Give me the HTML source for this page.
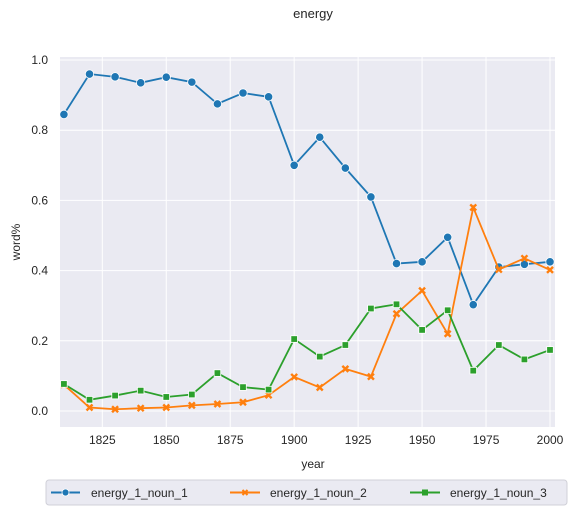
<!DOCTYPE html>
<html><head><meta charset="utf-8"><style>
body{margin:0;background:#fff;}
svg{font-family:"Liberation Sans",Arial,sans-serif;}
</style></head><body>
<svg id="c" width="576" height="515" viewBox="0 0 576 515" xmlns="http://www.w3.org/2000/svg">
<text x="313" y="18" text-anchor="middle" font-size="13" fill="#262626">energy</text>
<rect x="60" y="57" width="495" height="370" fill="#eaeaf2"/>
<g id="grid"></g>
<g id="series"></g>
<text x="313" y="468" text-anchor="middle" font-size="12" fill="#262626">year</text>
<text transform="translate(20,242) rotate(-90)" text-anchor="middle" font-size="12" fill="#262626">word%</text>
<g>
<rect x="46" y="480" width="521" height="25" rx="3" fill="#eaeaf2" stroke="#d0d0d8"/>
<g><line x1="51" y1="492.5" x2="80" y2="492.5" stroke="#1f77b4" stroke-width="2"/><circle cx="65.5" cy="492.5" r="3.5" fill="#1f77b4" stroke="#fff" stroke-width="0.8"/><text x="91" y="497" font-size="12" fill="#262626">energy_1_noun_1</text></g>
<g><line x1="230" y1="492.5" x2="260" y2="492.5" stroke="#ff7f0e" stroke-width="2"/><path d="M242.5,490L247.5,495M242.5,495L247.5,490" stroke="#ff7f0e" stroke-width="2"/><text x="270" y="497" font-size="12" fill="#262626">energy_1_noun_2</text></g>
<g><line x1="410" y1="492.5" x2="440" y2="492.5" stroke="#2ca02c" stroke-width="2"/><rect x="422" y="489.5" width="6" height="6" fill="#2ca02c"/><text x="450" y="497" font-size="12" fill="#262626">energy_1_noun_3</text></g>
</g>
</svg>
<script>
const years=[1810,1820,1830,1840,1850,1860,1870,1880,1890,1900,1910,1920,1930,1940,1950,1960,1970,1980,1990,2000];
const noun1=[0.845,0.96,0.952,0.935,0.951,0.937,0.875,0.906,0.895,0.70,0.78,0.692,0.61,0.42,0.425,0.495,0.303,0.41,0.418,0.425];
const noun2=[0.075,0.01,0.005,0.008,0.01,0.016,0.02,0.025,0.045,0.097,0.067,0.12,0.098,0.277,0.343,0.22,0.58,0.403,0.435,0.402];
const noun3=[0.077,0.032,0.044,0.058,0.04,0.047,0.108,0.068,0.061,0.205,0.155,0.188,0.292,0.304,0.231,0.287,0.115,0.188,0.147,0.174];
const xTicks=[1825,1850,1875,1900,1925,1950,1975,2000];
const yTicks=[0,0.2,0.4,0.6,0.8,1.0];
const NS="http://www.w3.org/2000/svg";
const xs=v=>102.3+(v-1825)*(550-102.3)/175;
const ys=v=>411-v*351;
function mk(t,a,p){const e=document.createElementNS(NS,t);for(const k in a)e.setAttribute(k,a[k]);p.appendChild(e);return e;}
const g=document.getElementById('grid'),svg=document.getElementById('c');
xTicks.forEach(t=>{const l=mk('line',{x1:xs(t),x2:xs(t),y1:57,y2:427,stroke:'#fff','stroke-width':1},g);


const tx=mk('text',{x:xs(t),y:444,'text-anchor':'middle','font-size':12,fill:'#262626'},svg);tx.textContent=t;

});
yTicks.forEach(t=>{const l=mk('line',{x1:60,x2:555,y1:ys(t),y2:ys(t),stroke:'#fff','stroke-width':1},g);


const tx=mk('text',{x:48,y:ys(t)+4,'text-anchor':'end','font-size':12,fill:'#262626'},svg);tx.textContent=t.toFixed(1);

});
const s=document.getElementById('series');
[[noun1,'#1f77b4','o'],[noun2,'#ff7f0e','x'],[noun3,'#2ca02c','s']].forEach(([d,c,m],i)=>{
const pl=mk('polyline',{points:d.map((v,j)=>xs(years[j])+','+ys(v)).join(' '),fill:'none',stroke:c,'stroke-width':1.8},s);


d.forEach((v,j)=>{const x=xs(years[j]),y=ys(v);let e;
if(m==='o')e=mk('circle',{cx:x,cy:y,r:4.2,fill:c,stroke:'#fff','stroke-width':0.8},s);
else if(m==='s')e=mk('rect',{x:x-3.3,y:y-3.3,width:6.6,height:6.6,fill:c,stroke:'#fff','stroke-width':0.8},s);
else e=mk('path',{d:`M${x-3},${y-3}L${x+3},${y+3}M${x-3},${y+3}L${x+3},${y-3}`,stroke:c,'stroke-width':2.4},s);

});});
</script>
</body></html>
